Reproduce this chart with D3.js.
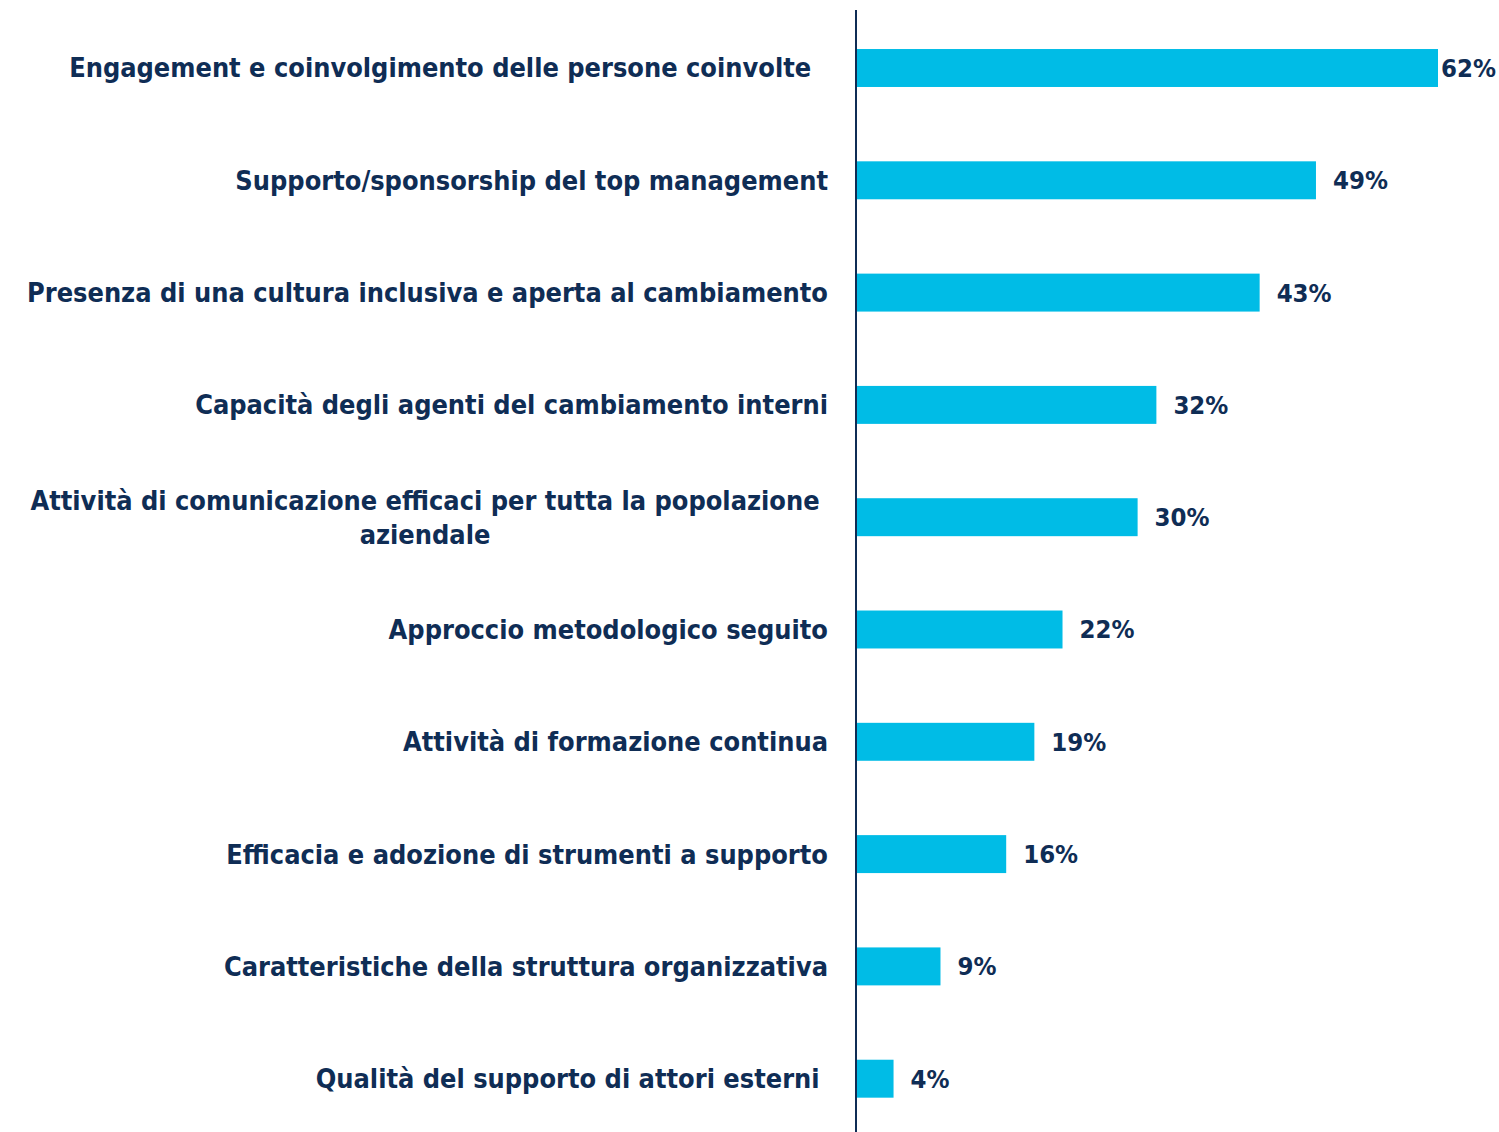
<!DOCTYPE html>
<html>
<head>
<meta charset="utf-8">
<script src="https://cdn.jsdelivr.net/npm/d3@7"></script>
<style>
  html, body { margin: 0; padding: 0; background: #fff; }
  text { font-family: "DejaVu Sans Condensed", "DejaVu Sans", sans-serif; font-weight: bold; white-space: pre; }
</style>
</head>
<body>
<svg id="chart"></svg>
<script>
// categories, top to bottom (multi-line labels split on \n)
const categories = [
    "Engagement e coinvolgimento delle persone coinvolte  ",
    "Supporto/sponsorship del top management",
    "Presenza di una cultura inclusiva e aperta al cambiamento",
    "Capacità degli agenti del cambiamento interni",
    "Attività di comunicazione efficaci per tutta la popolazione \naziendale",
    "Approccio metodologico seguito",
    "Attività di formazione continua",
    "Efficacia e adozione di strumenti a supporto",
    "Caratteristiche della struttura organizzativa",
    "Qualità del supporto di attori esterni "
];
// share of respondents, %
const values = [62, 49, 43, 32, 30, 22, 19, 16, 9, 4];

const width = 1499, height = 1132;
const navy = "#0f2d55", barColor = "#00bce6";

const svg = d3.select("#chart").attr("width", width).attr("height", height);

const x = d3.scaleLinear().domain([0, 62]).range([856, 1438]);
const y = d3.scaleBand().domain(d3.range(categories.length))
    .range([11.85, 1134.85])
    .paddingInner(0.662)
    .paddingOuter(0.331);

// bars
svg.append("g").selectAll("rect")
    .data(values)
    .join("rect")
    .attr("x", x(0))
    .attr("y", (d, i) => y(i))
    .attr("width", d => x(d) - x(0))
    .attr("height", y.bandwidth())
    .attr("fill", barColor);

// vertical axis line
svg.append("line")
    .attr("x1", x(0)).attr("x2", x(0))
    .attr("y1", 10).attr("y2", height)
    .attr("stroke", navy)
    .attr("stroke-width", 2);

// category labels, right aligned; wrapped lines centred on the first line
const labelX = 828, lineGap = 34, fontSize = 26.9, valueSize = 25.5;
const labelG = svg.append("g");
categories.forEach(function (c, i) {
    let lines = c.split("\n");
    let cy = y(i) + y.bandwidth() / 2;
    let top = cy - (lines.length - 1) * lineGap / 2;
    let first = labelG.append("text")
        .attr("x", labelX)
        .attr("y", top)
        .attr("dy", "0.35em")
        .attr("text-anchor", "end")
        .attr("fill", navy)
        .attr("font-size", fontSize)
        .text(lines[0]);
    if (lines.length > 1) {
        let full = first.node().getComputedTextLength();
        let trimmed = first.text().trimEnd();
        let tmp = labelG.append("text").attr("font-size", fontSize).text(trimmed);
        let w = tmp.node().getComputedTextLength();
        tmp.remove();
        let mid = labelX - full + w / 2;
        lines.slice(1).forEach(function (l, k) {
            labelG.append("text")
                .attr("x", mid)
                .attr("y", top + (k + 1) * lineGap)
                .attr("dy", "0.35em")
                .attr("text-anchor", "middle")
                .attr("fill", navy)
                .attr("font-size", fontSize)
                .text(l.trim());
        });
    }
});

// value labels
const fmt = d => d + "%";
svg.append("g").selectAll("text")
    .data(values)
    .join("text")
    .attr("y", (d, i) => y(i) + y.bandwidth() / 2)
    .attr("dy", "0.35em")
    .attr("fill", navy)
    .attr("font-size", valueSize)
    .text(fmt)
    .attr("x", function (d) {
        let w = this.getComputedTextLength();
        return Math.min(x(d) + 17, width - 3 - w);
    });
</script>
</body>
</html>
